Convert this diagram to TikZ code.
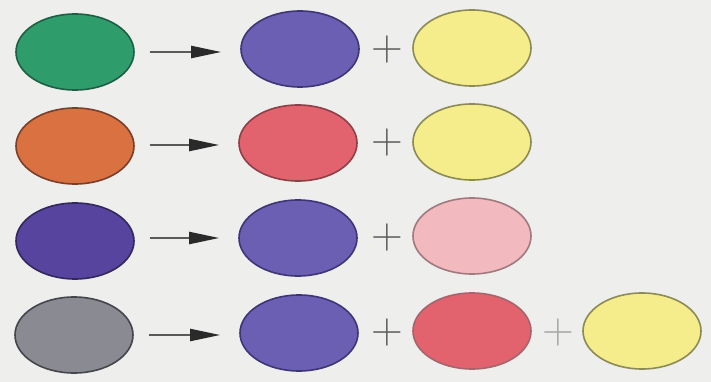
\documentclass[tikz,border=0pt]{standalone}
\usetikzlibrary{shapes.geometric,arrows.meta}
\definecolor{bg}{HTML}{EEEEEC}
\definecolor{cgreen}{HTML}{2F9C6C}
\definecolor{cgreenE}{HTML}{1E5E45}
\definecolor{cblue}{HTML}{6B5FB4}
\definecolor{cblueE}{HTML}{3E3577}
\definecolor{corange}{HTML}{DA7140}
\definecolor{corangeE}{HTML}{7A3E2A}
\definecolor{cred}{HTML}{E2636E}
\definecolor{credE}{HTML}{8E3F48}
\definecolor{cyellow}{HTML}{F5EC8C}
\definecolor{cyellowE}{HTML}{8C8A55}
\definecolor{cpink}{HTML}{F2B9BE}
\definecolor{cpinkE}{HTML}{A07A80}
\definecolor{cpurple}{HTML}{57449E}
\definecolor{cpurpleE}{HTML}{33285E}
\definecolor{cgray}{HTML}{8A8A92}
\definecolor{cgrayE}{HTML}{45454C}
\definecolor{arrowc}{HTML}{2A2A2A}
\definecolor{shaftc}{HTML}{5A5A5A}
\definecolor{plusc}{HTML}{5E5E5E}
\tikzset{
  blob/.style={ellipse, minimum width=118pt, minimum height=76pt, line width=1.6pt, inner sep=0pt},
  mix/.style={draw=shaftc, line width=2.2pt, shorten <=15pt, shorten >=19pt,
              -{Triangle[length=30pt,width=12pt,color=arrowc]}},
  plussign/.style={text=plusc, font=\fontsize{44}{44}\selectfont, inner sep=0pt}
}
\begin{document}
\begin{tikzpicture}[x=1pt,y=-1pt]
\fill[bg] (0,0) rectangle (711,382);
\useasboundingbox (0,0) rectangle (711,382);
% row 1
\node[blob, fill=cgreen, draw=cgreenE] (a1) at (75,52) {};
\node[blob, fill=cblue, draw=cblueE] (b1) at (300,49) {};
\node[blob, fill=cyellow, draw=cyellowE] (c1) at (472,48) {};
\node[plussign] (p1) at (387,50) {+};
\draw[mix] (a1.east) -- (a1.east -| b1.west);
% row 2
\node[blob, fill=corange, draw=corangeE] (a2) at (75,146) {};
\node[blob, fill=cred, draw=credE] (b2) at (298,143) {};
\node[blob, fill=cyellow, draw=cyellowE] (c2) at (472,142) {};
\node[plussign] (p2) at (387,143) {+};
\draw[mix] (a2.east) ++(0,-1) coordinate (s2) (s2) -- (s2 -| b2.west);
% row 3
\node[blob, fill=cpurple, draw=cpurpleE] (a3) at (75,241) {};
\node[blob, fill=cblue, draw=cblueE] (b3) at (298,238) {};
\node[blob, fill=cpink, draw=cpinkE] (c3) at (472,236) {};
\node[plussign] (p3) at (387,238) {+};
\draw[mix] (a3.east) ++(0,-3) coordinate (s3) (s3) -- (s3 -| b3.west);
% row 4
\node[blob, fill=cgray, draw=cgrayE] (a4) at (74,335) {};
\node[blob, fill=cblue, draw=cblueE] (b4) at (299,333) {};
\node[blob, fill=cred, draw=credE!80] (c4) at (472,331) {};
\node[blob, fill=cyellow, draw=cyellowE] (d4) at (642,331) {};
\node[plussign] (p4) at (387,333) {+};
\node[plussign, text=plusc!55] (q4) at (558,333) {+};
\draw[mix] (a4.east) -- (a4.east -| b4.west);
\end{tikzpicture}
\end{document}
